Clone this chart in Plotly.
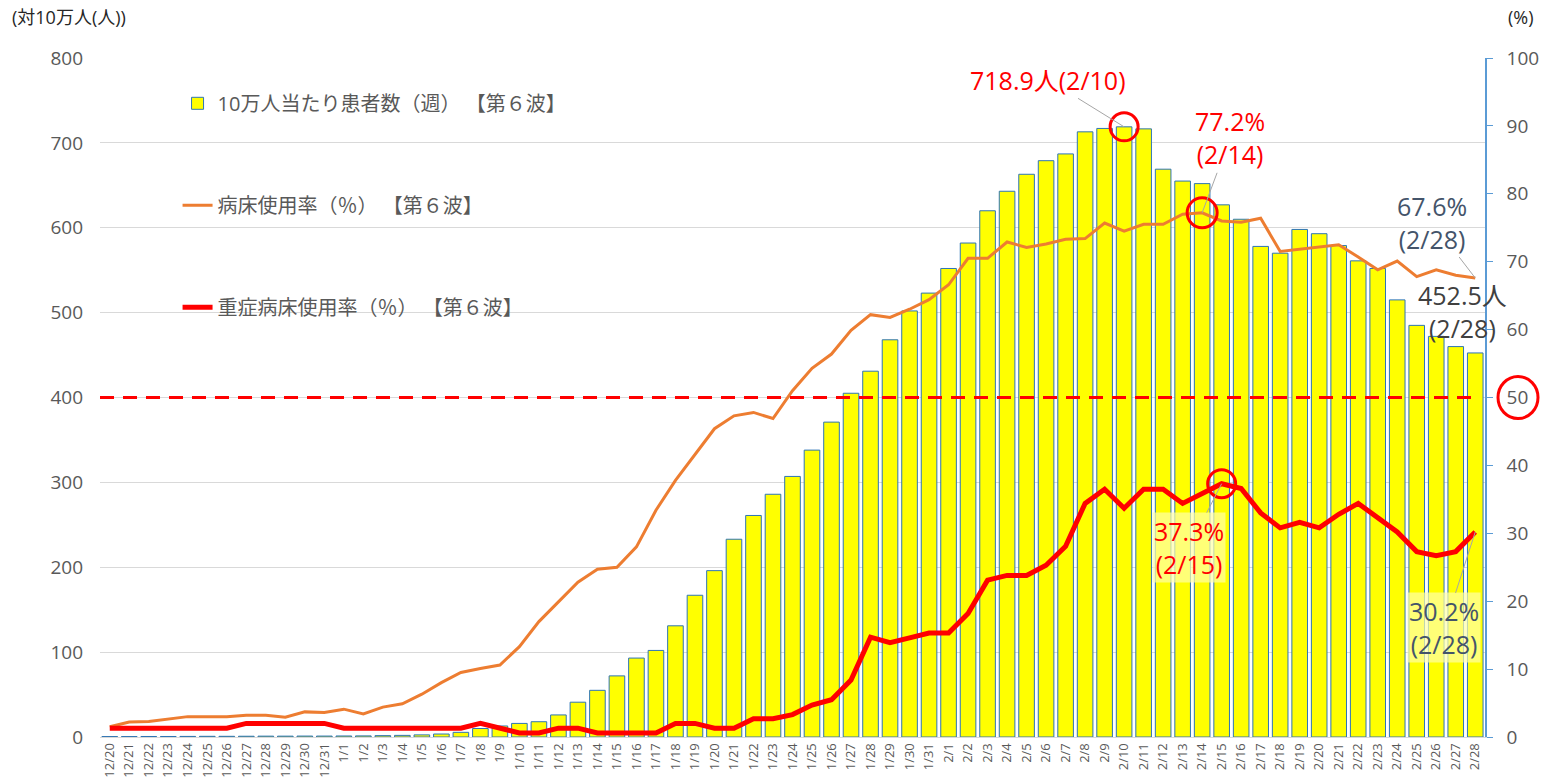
import plotly.graph_objects as go

dates = (["12/%d" % d for d in range(20, 32)]
         + ["1/%d" % d for d in range(1, 32)]
         + ["2/%d" % d for d in range(1, 29)])

patients_per_100k = [
    0.5, 0.5, 0.6, 0.6, 0.7, 0.8, 0.8, 0.9, 1.0, 1.0, 1.1, 1.1,
    1.2, 1.3, 1.6, 1.9, 2.5, 3.5, 5.5, 10, 13, 16, 18, 26, 41, 55, 72, 93, 102, 131,
    167, 196, 233, 261, 286, 307, 338, 371, 405, 431, 468, 502, 523,
    552, 582, 620, 643, 663, 679, 687, 713, 717, 718.9, 716.5, 669, 655, 652, 627,
    610, 578, 570, 598, 593, 579, 561, 552, 515, 485, 472, 460, 452.5,
]

bed_usage = [
    1.5, 2.2, 2.3, 2.7, 3.0, 3.0, 3.0, 3.2, 3.2, 2.9, 3.7, 3.6,
    4.1, 3.4, 4.4, 4.9, 6.3, 8.0, 9.5, 10.1, 10.6, 13.3, 17.0, 19.9, 22.8, 24.7, 25.0,
    28.0, 33.4, 37.8, 41.6, 45.4, 47.3, 47.8, 46.9, 51.0, 54.3, 56.4, 59.9, 62.2,
    61.8, 63.0, 64.4,
    66.6, 70.5, 70.5, 72.9, 72.1, 72.6, 73.3, 73.4, 75.7, 74.5, 75.5, 75.5, 77.0,
    77.2, 76.0, 75.8, 76.4, 71.5, 71.8, 72.2, 72.5, 70.7, 68.8, 70.1, 67.8, 68.8,
    68.0, 67.6,
]

severe_bed_usage = [
    1.3, 1.3, 1.3, 1.3, 1.3, 1.3, 1.3, 2.0, 2.0, 2.0, 2.0, 2.0,
    1.3, 1.3, 1.3, 1.3, 1.3, 1.3, 1.3, 2.0, 1.3, 0.6, 0.6, 1.3, 1.3, 0.6, 0.6,
    0.6, 0.6, 2.0, 2.0, 1.3, 1.3, 2.7, 2.7, 3.3, 4.7, 5.5, 8.4, 14.7, 13.9, 14.6,
    15.3,
    15.3, 18.2, 23.1, 23.8, 23.8, 25.3, 28.1, 34.4, 36.5, 33.7, 36.5, 36.5, 34.4,
    35.9, 37.3, 36.6, 33.0, 30.8, 31.6, 30.8, 32.8, 34.4, 32.2, 30.2, 27.3, 26.7,
    27.3, 30.2,
]

threshold_patients = 400

FONT = "Open Sans, Noto Sans CJK JP"
GRAY = "#595959"

fig = go.Figure()
fig.add_trace(go.Bar(
    x=dates, y=patients_per_100k, name="10万人当たり患者数（週） 【第６波】",
    marker=dict(color="#FFFF00", line=dict(color="#2E75B6", width=1)),
    legendgroup="a", yaxis="y",
))
fig.add_trace(go.Scatter(
    x=dates, y=bed_usage, name="病床使用率（％） 【第６波】", mode="lines",
    line=dict(color="#ED7D31", width=3), legendgroup="b", yaxis="y2",
))
fig.add_trace(go.Scatter(
    x=dates, y=severe_bed_usage, name="重症病床使用率（％） 【第６波】", mode="lines",
    line=dict(color="#FF0000", width=5), legendgroup="c", yaxis="y2",
))

shapes = [
    dict(type="line", xref="paper", yref="y", x0=0, x1=0.99,
         y0=threshold_patients, y1=threshold_patients,
         line=dict(color="#FF0000", width=3, dash="14px,9px")),
]

def circle(xi, yv, yref, r):
    return dict(type="circle", xref="x", yref=yref, xsizemode="pixel", ysizemode="pixel",
                xanchor=xi, yanchor=yv, x0=-r, x1=r, y0=-r, y1=r,
                line=dict(color="#FF0000", width=3))

i210 = dates.index("2/10")
i214 = dates.index("2/14")
i215 = dates.index("2/15")
shapes.append(circle(i210, patients_per_100k[i210], "y", 14))
shapes.append(circle(i214, bed_usage[i214], "y2", 15))
shapes.append(circle(i215, severe_bed_usage[i215], "y2", 14))
shapes.append(dict(type="circle", xref="paper", yref="y2", xsizemode="pixel", ysizemode="pixel",
                   xanchor=1, yanchor=50, x0=13, x1=53, y0=-21, y1=21,
                   line=dict(color="#FF0000", width=3)))

AF = 25
ann = []
ann.append(dict(x="2/10", y=718.9, yref="y", text="718.9人(2/10)", showarrow=True,
                arrowhead=0, arrowwidth=1, arrowcolor="#A6A6A6", ax=-76, ay=-47,
                font=dict(size=AF, color="#FF0000")))
ann.append(dict(x="2/14", y=77.2, yref="y2", text="77.2%<br>(2/14)", showarrow=True,
                arrowhead=0, arrowwidth=1, arrowcolor="#A6A6A6", ax=28, ay=-75,
                font=dict(size=AF, color="#FF0000")))
ann.append(dict(x="2/15", y=37.3, yref="y2", text="37.3%<br>(2/15)", showarrow=True,
                arrowhead=0, arrowwidth=1, arrowcolor="#A6A6A6", ax=-33, ay=64,
                bgcolor="rgba(255,255,170,0.7)",
                font=dict(size=AF, color="#FF0000")))
ann.append(dict(x="2/28", y=67.6, yref="y2", text="67.6%<br>(2/28)", showarrow=True,
                arrowhead=0, arrowwidth=1, arrowcolor="#A6A6A6", ax=-43, ay=-56,
                font=dict(size=AF, color="#44546A")))
ann.append(dict(x="2/28", y=452.5, yref="y", text="452.5人<br>(2/28)", showarrow=False,
                xshift=-13, yshift=41,
                font=dict(size=AF, color="#404040")))
ann.append(dict(x="2/28", y=30.2, yref="y2", text="30.2%<br>(2/28)", showarrow=True,
                arrowhead=0, arrowwidth=1, arrowcolor="#A6A6A6", ax=-31, ay=96,
                bgcolor="rgba(255,255,170,0.7)",
                font=dict(size=AF, color="#44546A")))
ann.append(dict(xref="paper", yref="paper", x=-0.065, y=1.06, xanchor="left", yanchor="middle",
                text="(対10万人(人))", showarrow=False, font=dict(size=18, color="#262626")))
ann.append(dict(xref="paper", yref="paper", x=1.0155, y=1.06, xanchor="left", yanchor="middle",
                text="(%)", showarrow=False, font=dict(size=18, color="#262626")))

fig.update_layout(
    width=1557, height=784,
    margin=dict(l=100, r=72, t=58, b=47),
    paper_bgcolor="white", plot_bgcolor="white",
    font=dict(family=FONT, color=GRAY),
    bargap=0.2,
    showlegend=True,
    legend=dict(x=0.056, y=0.962, xanchor="left", yanchor="top",
                bgcolor="rgba(0,0,0,0)", font=dict(size=20, color=GRAY),
                traceorder="grouped", tracegroupgap=73, itemwidth=30),
    xaxis=dict(type="category", tickangle=-90, tickfont=dict(size=13, color=GRAY),
               showgrid=False, showline=True, linecolor="#D9D9D9", linewidth=1,
               ticks="", range=[-0.5, len(dates) - 0.5], automargin=False),
    yaxis=dict(range=[0, 800], dtick=100, showgrid=True, gridcolor="#D9D9D9",
               zeroline=False, showline=False, tickfont=dict(size=19, color=GRAY),
               ticklabelstandoff=16, automargin=False),
    yaxis2=dict(range=[0, 100], dtick=10, overlaying="y", side="right",
                showgrid=False, zeroline=False, showline=True, linecolor="#5B9BD5",
                linewidth=1.5, ticks="outside", ticklen=6, tickcolor="#5B9BD5",
                tickfont=dict(size=19, color=GRAY), ticklabelstandoff=10, automargin=False),
    shapes=shapes,
    annotations=ann,
)

fig.write_html("out.html", config={"displayModeBar": False},
               post_script="document.body.style.margin='0';")
